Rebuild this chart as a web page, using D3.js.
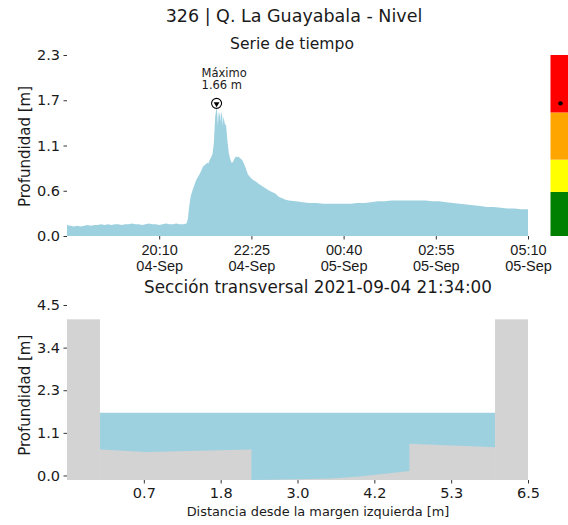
<!DOCTYPE html>
<html>
<head>
<meta charset="utf-8">
<script src="https://cdn.jsdelivr.net/npm/d3@7"></script>
<style>
  html, body { margin: 0; padding: 0; background: #fff; }
  svg { display: block; font-family: "DejaVu Sans", sans-serif; }
</style>
</head>
<body>
<svg id="chart" width="568" height="525"></svg>
<script>
// ---------------- DATA ----------------
const titleText = "326 | Q. La Guayabala - Nivel";
const subtitleTop = "Serie de tiempo";
const subtitleBottom = "Sección transversal 2021-09-04 21:34:00";
const yLabel = "Profundidad [m]";
const xLabelBottom = "Distancia desde la margen izquierda [m]";

// Time series (depth in m)
const seriesTimes = [
  "2021-09-04 17:55","2021-09-04 18:00","2021-09-04 18:05","2021-09-04 18:10","2021-09-04 18:15",
  "2021-09-04 18:20","2021-09-04 18:25","2021-09-04 18:30","2021-09-04 18:35","2021-09-04 18:40",
  "2021-09-04 18:45","2021-09-04 18:50","2021-09-04 18:55","2021-09-04 19:00","2021-09-04 19:05",
  "2021-09-04 19:10","2021-09-04 19:15","2021-09-04 19:20","2021-09-04 19:25","2021-09-04 19:30",
  "2021-09-04 19:35","2021-09-04 19:40","2021-09-04 19:45","2021-09-04 19:50","2021-09-04 19:55",
  "2021-09-04 20:00","2021-09-04 20:05","2021-09-04 20:10","2021-09-04 20:15","2021-09-04 20:20",
  "2021-09-04 20:25","2021-09-04 20:30","2021-09-04 20:35","2021-09-04 20:40","2021-09-04 20:45",
  "2021-09-04 20:50","2021-09-04 20:52","2021-09-04 20:54","2021-09-04 20:56","2021-09-04 20:58",
  "2021-09-04 21:00","2021-09-04 21:02","2021-09-04 21:04","2021-09-04 21:06","2021-09-04 21:08",
  "2021-09-04 21:10","2021-09-04 21:12","2021-09-04 21:14","2021-09-04 21:16","2021-09-04 21:18",
  "2021-09-04 21:20","2021-09-04 21:22","2021-09-04 21:24","2021-09-04 21:26","2021-09-04 21:28",
  "2021-09-04 21:30","2021-09-04 21:31","2021-09-04 21:32","2021-09-04 21:33","2021-09-04 21:34",
  "2021-09-04 21:35","2021-09-04 21:36","2021-09-04 21:37","2021-09-04 21:38","2021-09-04 21:39",
  "2021-09-04 21:40","2021-09-04 21:41","2021-09-04 21:42","2021-09-04 21:43","2021-09-04 21:44",
  "2021-09-04 21:46","2021-09-04 21:48","2021-09-04 21:50","2021-09-04 21:52","2021-09-04 21:54",
  "2021-09-04 21:56","2021-09-04 21:58","2021-09-04 22:00","2021-09-04 22:02","2021-09-04 22:04",
  "2021-09-04 22:06","2021-09-04 22:08","2021-09-04 22:10","2021-09-04 22:12","2021-09-04 22:14",
  "2021-09-04 22:16","2021-09-04 22:18","2021-09-04 22:20","2021-09-04 22:24","2021-09-04 22:28",
  "2021-09-04 22:32","2021-09-04 22:36","2021-09-04 22:40","2021-09-04 22:45","2021-09-04 22:50",
  "2021-09-04 22:55","2021-09-04 23:00","2021-09-04 23:05","2021-09-04 23:10","2021-09-04 23:15",
  "2021-09-04 23:20","2021-09-04 23:30","2021-09-04 23:40","2021-09-04 23:50","2021-09-05 00:00",
  "2021-09-05 00:10","2021-09-05 00:20","2021-09-05 00:30","2021-09-05 00:40","2021-09-05 00:50",
  "2021-09-05 01:00","2021-09-05 01:10","2021-09-05 01:20","2021-09-05 01:30","2021-09-05 01:40",
  "2021-09-05 01:50","2021-09-05 02:00","2021-09-05 02:10","2021-09-05 02:20","2021-09-05 02:30",
  "2021-09-05 02:40","2021-09-05 02:50","2021-09-05 03:00","2021-09-05 03:10","2021-09-05 03:20",
  "2021-09-05 03:30","2021-09-05 03:40","2021-09-05 03:50","2021-09-05 04:00","2021-09-05 04:10",
  "2021-09-05 04:20","2021-09-05 04:30","2021-09-05 04:40","2021-09-05 04:50","2021-09-05 05:00",
  "2021-09-05 05:10"
];
const seriesDepth = [
  0.14,0.13,0.12,0.13,0.12,
  0.13,0.14,0.13,0.14,0.14,
  0.15,0.14,0.15,0.14,0.15,
  0.15,0.14,0.15,0.15,0.16,
  0.15,0.15,0.14,0.15,0.16,
  0.15,0.15,0.14,0.15,0.16,
  0.15,0.15,0.16,0.15,0.15,
  0.16,0.22,0.38,0.50,0.56,
  0.61,0.66,0.71,0.74,0.77,
  0.80,0.84,0.88,0.90,0.91,
  0.93,0.92,0.97,1.00,1.04,
  1.18,1.35,1.52,1.58,1.66,
  1.55,1.40,1.58,1.52,1.59,
  1.45,1.57,1.55,1.40,1.52,
  1.43,1.40,1.20,1.05,0.98,
  0.93,0.94,0.98,1.01,1.00,
  1.01,0.99,0.98,0.96,0.92,
  0.88,0.83,0.78,0.74,0.71,
  0.69,0.66,0.64,0.61,0.58,
  0.56,0.54,0.50,0.48,0.46,
  0.45,0.44,0.43,0.42,0.42,
  0.41,0.41,0.41,0.41,0.41,
  0.42,0.42,0.43,0.44,0.44,
  0.45,0.45,0.45,0.45,0.45,
  0.45,0.44,0.44,0.43,0.42,
  0.41,0.40,0.39,0.38,0.37,
  0.37,0.36,0.35,0.35,0.34,
  0.34
];
const timeDomain = ["2021-09-04 17:55", "2021-09-05 05:10"];
const timeTicks = ["2021-09-04 20:10","2021-09-04 22:25","2021-09-05 00:40","2021-09-05 02:55","2021-09-05 05:10"];
const topYDomain = [0, 2.3];
const topYTicks = [0, 0.575, 1.15, 1.725, 2.3];
const topYTickLabels = ["0.0", "0.6", "1.1", "1.7", "2.3"];

const maxTime = "2021-09-04 21:34";
const maxDepth = 1.66;
const maxLabel = ["Máximo", "1.66 m"];

// Alert levels (colour bar), depth thresholds in m
const alertBounds = [0, 0.56, 0.97, 1.57, 2.3];
const alertColors = ["#008000", "#ffff00", "#ffa500", "#ff0000"];

// Cross-section
const sectionDist  = [0.0, 0.7, 2.3, 2.3, 3.0, 3.5, 3.95, 4.7, 4.7, 6.0];
const sectionElev  = [0.69, 0.62, 0.69, -0.12, -0.10, -0.08, -0.03, 0.12, 0.84, 0.75];
const wallSpans    = [[-0.5, 0.0], [6.0, 6.5]];
const wallTop      = 4.14;
const waterLevel   = 1.66;
const waterSpan    = [0.0, 6.0];
const bottomXDomain = [-0.5, 6.5];
const bottomYDomain = [-0.12, 4.52];
const bottomXTicks = [0.6667, 1.8333, 3.0, 4.1667, 5.3333, 6.5];
const bottomXTickLabels = ["0.7", "1.8", "3.0", "4.2", "5.3", "6.5"];
const bottomYTicks = [0, 1.13, 2.26, 3.39, 4.52];
const bottomYTickLabels = ["0.0", "1.1", "2.3", "3.4", "4.5"];

// ---------------- DRAW ----------------
const parse = d3.timeParse("%Y-%m-%d %H:%M");
const svg = d3.select("#chart");
const waterColor = "#9dd1e0";
const groundColor = "#d3d3d3";
const textColor = "#1a1a1a";
const tickFont = 14.5;

svg.append("rect").attr("width", 568).attr("height", 525).attr("fill", "#fff");

// Titles
svg.append("text").attr("x", 294).attr("y", 22).attr("text-anchor", "middle")
  .attr("font-size", 17.5).attr("fill", textColor).text(titleText);
svg.append("text").attr("x", 292).attr("y", 48.5).attr("text-anchor", "middle")
  .attr("font-size", 15.6).attr("fill", textColor).text(subtitleTop);

// ---- Top chart ----
const xT = d3.scaleTime().domain(timeDomain.map(parse)).range([67, 528]);
const yT = d3.scaleLinear().domain(topYDomain).range([236, 55]);

const tsData = seriesTimes.map((t, i) => ({ t: parse(t), v: seriesDepth[i] }));
svg.append("path").datum(tsData)
  .attr("fill", waterColor)
  .attr("d", d3.area().x(d => xT(d.t)).y0(yT(0)).y1(d => yT(d.v)));

// x axis (top chart)
const gxT = svg.append("g").attr("transform", `translate(0,${yT(0)})`)
  .call(d3.axisBottom(xT).tickValues(timeTicks.map(parse)).tickSize(3.5).tickPadding(4).tickFormat(""));
gxT.select(".domain").remove();
gxT.selectAll(".tick line").attr("stroke", "#333");
const fmtHM = d3.timeFormat("%H:%M"), fmtDM = d3.timeFormat("%d-%b");
gxT.selectAll(".tick").each(function(d) {
  const g = d3.select(this);
  g.append("text").attr("y", 18.5).attr("text-anchor", "middle").attr("fill", textColor)
    .attr("font-size", tickFont).text(fmtHM(d));
  g.append("text").attr("y", 35).attr("text-anchor", "middle").attr("fill", textColor)
    .attr("font-size", tickFont).text(fmtDM(d));
});

// y axis (top chart)
const gyT = svg.append("g").attr("transform", "translate(67,0)")
  .call(d3.axisLeft(yT).tickValues(topYTicks).tickSize(3.5).tickPadding(3.5)
    .tickFormat((d, i) => topYTickLabels[i]));
gyT.select(".domain").remove();
gyT.selectAll(".tick line").attr("stroke", "#333");
gyT.selectAll(".tick text").attr("font-size", tickFont).attr("fill", textColor).attr("font-family", "DejaVu Sans");

svg.append("text").attr("transform", `translate(30,${(yT(0) + yT(2.3)) / 2 + 1}) rotate(-90)`)
  .attr("text-anchor", "middle").attr("font-size", 15).attr("fill", textColor).text(yLabel);

// Max marker and annotation
const mx = xT(parse(maxTime)), my = yT(maxDepth) - 2;
svg.append("circle").attr("cx", mx).attr("cy", my).attr("r", 5)
  .attr("fill", "#fff").attr("stroke", "#000").attr("stroke-width", 1.1);
svg.append("path")
  .attr("d", d3.symbol(d3.symbolTriangle, 14)()).attr("transform", `translate(${mx},${my + 0.5}) rotate(180)`)
  .attr("fill", "#000");
svg.append("text").attr("x", mx - 15).attr("y", my - 26.5).attr("font-size", 11.5)
  .attr("fill", textColor).text(maxLabel[0]);
svg.append("text").attr("x", mx - 15).attr("y", my - 14).attr("font-size", 11.5)
  .attr("fill", textColor).text(maxLabel[1]);

// Colour bar (alert levels)
alertColors.forEach((c, i) => {
  svg.append("rect").attr("x", 550.5).attr("width", 20)
    .attr("y", yT(alertBounds[i + 1])).attr("height", yT(alertBounds[i]) - yT(alertBounds[i + 1]))
    .attr("fill", c);
});
svg.append("circle").attr("cx", 560.5).attr("cy", yT(maxDepth) - 2).attr("r", 2.2).attr("fill", "#000");

// ---- Bottom chart ----
svg.append("text").attr("x", 318).attr("y", 293).attr("text-anchor", "middle")
  .attr("font-size", 16.8).attr("fill", textColor).text(subtitleBottom);

const xB = d3.scaleLinear().domain(bottomXDomain).range([67, 528]);
const yB = d3.scaleLinear().domain(bottomYDomain).range([480, 305]);

// water
svg.append("path").datum(waterSpan)
  .attr("fill", waterColor)
  .attr("d", d3.area().x(d => xB(d)).y0(yB(bottomYDomain[0])).y1(yB(waterLevel)));

// ground
const profile = sectionDist.map((d, i) => ({ d, e: sectionElev[i] }));
svg.append("path").datum(profile)
  .attr("fill", groundColor)
  .attr("d", d3.area().x(p => xB(p.d)).y0(yB(bottomYDomain[0])).y1(p => yB(p.e)));

// walls
svg.selectAll("rect.wall").data(wallSpans).enter().append("rect")
  .attr("class", "wall")
  .attr("x", d => xB(d[0])).attr("width", d => xB(d[1]) - xB(d[0]))
  .attr("y", yB(wallTop)).attr("height", yB(bottomYDomain[0]) - yB(wallTop))
  .attr("fill", groundColor);

const gxB = svg.append("g").attr("transform", `translate(0,${yB(bottomYDomain[0])})`)
  .call(d3.axisBottom(xB).tickValues(bottomXTicks).tickSize(3.5).tickPadding(4)
    .tickFormat((d, i) => bottomXTickLabels[i]));
gxB.select(".domain").remove();
gxB.selectAll(".tick line").attr("stroke", "#333");
gxB.selectAll(".tick text").attr("font-size", tickFont).attr("fill", textColor).attr("font-family", "DejaVu Sans");

const gyB = svg.append("g").attr("transform", "translate(67,0)")
  .call(d3.axisLeft(yB).tickValues(bottomYTicks).tickSize(3.5).tickPadding(3.5)
    .tickFormat((d, i) => bottomYTickLabels[i]));
gyB.select(".domain").remove();
gyB.selectAll(".tick line").attr("stroke", "#333");
gyB.selectAll(".tick text").attr("font-size", tickFont).attr("fill", textColor).attr("font-family", "DejaVu Sans");

svg.append("text").attr("transform", `translate(30,${(yB(0) + yB(4.52)) / 2 + 5}) rotate(-90)`)
  .attr("text-anchor", "middle").attr("font-size", 15).attr("fill", textColor).text(yLabel);

svg.append("text").attr("x", 318).attr("y", 515.5).attr("text-anchor", "middle")
  .attr("font-size", 12.9).attr("fill", textColor).text(xLabelBottom);
</script>
</body>
</html>
